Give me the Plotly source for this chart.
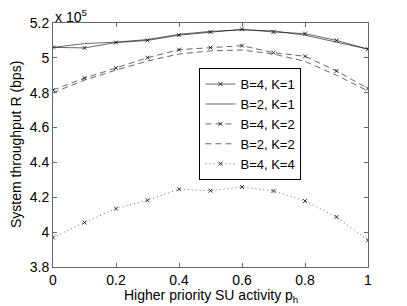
import plotly.graph_objects as go

x_vals = [0, 0.1, 0.2, 0.3, 0.4, 0.5, 0.6, 0.7, 0.8, 0.9, 1.0]
b4_k1 = [5.060, 5.057, 5.088, 5.100, 5.130, 5.148, 5.164, 5.148, 5.139, 5.100, 5.050]
b2_k1 = [5.060, 5.082, 5.090, 5.105, 5.135, 5.152, 5.160, 5.155, 5.130, 5.092, 5.050]
b4_k2 = [4.815, 4.884, 4.942, 5.001, 5.047, 5.059, 5.070, 5.030, 5.009, 4.925, 4.824]
b2_k2 = [4.800, 4.872, 4.930, 4.982, 5.022, 5.040, 5.045, 5.022, 4.980, 4.900, 4.810]
b4_k4 = [3.969, 4.055, 4.135, 4.183, 4.246, 4.238, 4.259, 4.236, 4.179, 4.087, 3.953]
y_ticks = [3.8, 4.0, 4.2, 4.4, 4.6, 4.8, 5.0, 5.2]
y_tick_labels = ["3.8", "4", "4.2", "4.4", "4.6", "4.8", "5", "5.2"]
x_ticks = [0, 0.2, 0.4, 0.6, 0.8, 1]
x_tick_labels = ["0", "0.2", "0.4", "0.6", "0.8", "1"]

FONT = "Liberation Sans, Arial, Helvetica, sans-serif"
mk = dict(symbol="x-thin", size=4, line=dict(width=0.8, color="black"), color="black")

series = [
    ("B=4, K=1", b4_k1, "solid", True),
    ("B=2, K=1", b2_k1, "solid", False),
    ("B=4, K=2", b4_k2, "6px,4px", True),
    ("B=2, K=2", b2_k2, "6px,4px", False),
    ("B=4, K=4", b4_k4, "1px,3px", True),
]

fig = go.Figure()
for name, ys, dash, has_marker in series:
    fig.add_trace(go.Scatter(
        x=x_vals, y=ys, name=name,
        mode="lines+markers" if has_marker else "lines",
        line=dict(color="black", width=0.6, dash=dash),
        marker=mk if has_marker else None,
    ))

axis_common = dict(
    showgrid=False, zeroline=False, showline=True, mirror="ticks",
    linecolor="#666666", linewidth=1, ticks="inside", ticklen=4,
    tickcolor="#666666", tickfont=dict(family=FONT, size=14, color="black"),
    automargin=False,
)

fig.update_layout(
    width=407, height=306,
    margin=dict(l=53, r=39, t=23, b=39),
    paper_bgcolor="white", plot_bgcolor="white",
    font=dict(family=FONT, color="black"),
    showlegend=True,
    legend=dict(
        x=0.465, y=0.815, xanchor="left", yanchor="top",
        bgcolor="white", bordercolor="black", borderwidth=1,
        font=dict(family=FONT, size=13, color="black"),
        tracegroupgap=0, itemwidth=30,
    ),
    xaxis=dict(range=[0, 1], tickvals=x_ticks, ticktext=x_tick_labels, **axis_common),
    yaxis=dict(range=[3.8, 5.2], tickvals=y_ticks, ticktext=y_tick_labels, **axis_common),
    annotations=[
        dict(text="x 10<sup>5</sup>", xref="paper", yref="paper", x=0.0, y=1.0,
             xanchor="left", yanchor="bottom", showarrow=False, yshift=-4,
             font=dict(family=FONT, size=14, color="black")),
        dict(text="Higher priority SU activity p<sub>h</sub>", xref="paper", yref="paper",
             x=0.5, y=0, yshift=-18, xanchor="center", yanchor="top", showarrow=False,
             font=dict(family=FONT, size=14, color="black")),
        dict(text="System throughput R (bps)", xref="paper", yref="paper",
             x=0, y=0.5, xshift=-27, textangle=-90, xanchor="right", yanchor="middle",
             showarrow=False, font=dict(family=FONT, size=14, color="black")),
    ],
)

fig.write_html("out.html", post_script="document.body.style.margin='0';",
               config={"displayModeBar": False})
